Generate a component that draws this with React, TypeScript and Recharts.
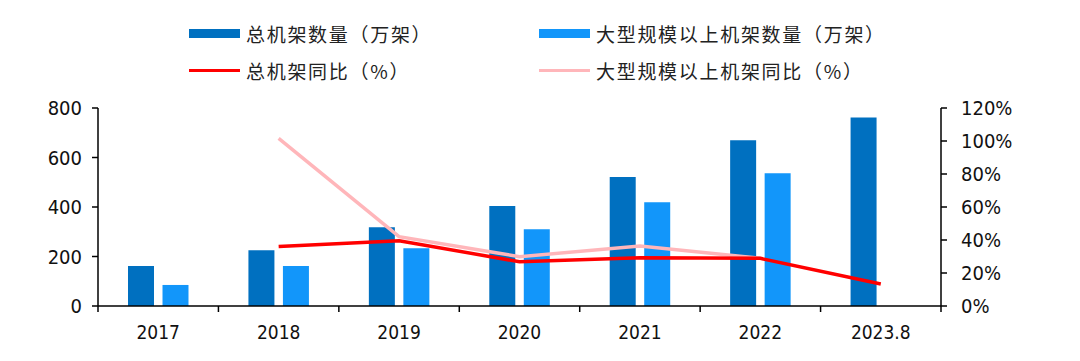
import { ComposedChart, Bar, Line, XAxis, YAxis } from 'recharts';

const years = ['2017', '2018', '2019', '2020', '2021', '2022', '2023.8'];
const totalRacks = [162, 225, 318, 404, 521, 670, 762];
const largeRacks = [85, 162, 233, 310, 419, 536, null];
const totalYoY = [null, 36, 39.6, 26.8, 29.3, 28.9, 13.3];
const largeYoY = [null, 101.6, 42, 29.9, 36.4, 28.9, null];

const leftTicks = [0, 200, 400, 600, 800];
const rightTicks = [0, 20, 40, 60, 80, 100, 120];

const W = 1064;
const H = 345;
const margin = { top: 100, right: 61, bottom: 7, left: 0 };
const leftW = 90;
const rightW = 70;
const plotW = W - margin.left - margin.right - leftW - rightW;
const halfBand = plotW / years.length / 2;

const data = years.map((year, i) => ({
  year,
  total: totalRacks[i],
  large: largeRacks[i],
  totalYoY: totalYoY[i],
  largeYoY: largeYoY[i],
}));

const numFont = '"DejaVu Sans Condensed", "Liberation Sans", Arial, sans-serif';
const cjkFont = '"Noto Sans CJK SC", sans-serif';

const XTick = (props: any) => {
  const { x, y, payload, index } = props;
  const last = index === years.length - 1;
  return (
    <g>
      <line x1={x - halfBand} x2={x - halfBand} y1={y} y2={y + 6} stroke="#000" strokeWidth={1.5} />
      {last && <line x1={x + halfBand} x2={x + halfBand} y1={y} y2={y + 6} stroke="#000" strokeWidth={1.5} />}
      <text x={x} y={y + 33} textAnchor="middle" fontSize={19} fontFamily={numFont} fill="#111">
        {payload.value}
      </text>
    </g>
  );
};

const legendItems = [
  { label: '总机架数量（万架）', color: '#0070C0', kind: 'bar', left: 181, top: 15 },
  { label: '大型规模以上机架数量（万架）', color: '#1296FA', kind: 'bar', left: 531, top: 15 },
  { label: '总机架同比（%）', color: '#FF0000', kind: 'line', left: 181, top: 52 },
  { label: '大型规模以上机架同比（%）', color: '#FFB6BA', kind: 'line', left: 531, top: 52 },
];

const ChartLegend = () => (
  <>
    {legendItems.map((item) => (
      <div
        key={item.label}
        style={{
          position: 'absolute',
          left: item.left,
          top: item.top,
          display: 'flex',
          alignItems: 'center',
          height: 20,
          fontFamily: cjkFont,
          fontSize: 19,
          letterSpacing: 1.7,
          color: '#222',
          whiteSpace: 'nowrap',
        }}
      >
        <span
          style={{
            display: 'inline-block',
            width: 51,
            height: item.kind === 'bar' ? 9 : 3,
            background: item.color,
            marginRight: 6,
          }}
        />
        {item.label}
      </div>
    ))}
  </>
);

export default function App() {
  return (
    <div style={{ position: 'relative', width: W, height: H, background: '#fff' }}>
      <ChartLegend />
      <ComposedChart width={W} height={H} data={data} margin={margin} barGap={8.5}>
        <XAxis
          dataKey="year"
          axisLine={{ stroke: '#000', strokeWidth: 1.5 }}
          tickLine={false}
          tickSize={0}
          tickMargin={0}
          tick={<XTick />}
          interval={0}
          height={40}
        />
        <YAxis
          yAxisId="left"
          domain={[0, 800]}
          ticks={leftTicks}
          width={leftW}
          axisLine={{ stroke: '#000', strokeWidth: 1.5 }}
          tickLine={{ stroke: '#000', strokeWidth: 1.5 }}
          tickSize={6}
          tickMargin={10}
          tick={{ fontSize: 20, fontFamily: numFont, fill: '#111' }}
        />
        <YAxis
          yAxisId="right"
          orientation="right"
          domain={[0, 120]}
          ticks={rightTicks}
          width={rightW}
          axisLine={{ stroke: '#000', strokeWidth: 1.5 }}
          tickLine={{ stroke: '#000', strokeWidth: 1.5 }}
          tickSize={6}
          tickMargin={14}
          tickFormatter={(v: number) => `${v}%`}
          tick={{ fontSize: 20, fontFamily: numFont, fill: '#111' }}
        />
        <Bar yAxisId="left" dataKey="total" fill="#0070C0" barSize={26} isAnimationActive={false} />
        <Bar yAxisId="left" dataKey="large" fill="#1296FA" barSize={26} isAnimationActive={false} />
        <Line
          yAxisId="right"
          dataKey="largeYoY"
          stroke="#FFB6BA"
          strokeWidth={3.5}
          dot={false}
          type="linear"
          isAnimationActive={false}
        />
        <Line
          yAxisId="right"
          dataKey="totalYoY"
          stroke="#FF0000"
          strokeWidth={3.5}
          dot={false}
          type="linear"
          isAnimationActive={false}
        />
      </ComposedChart>
    </div>
  );
}
